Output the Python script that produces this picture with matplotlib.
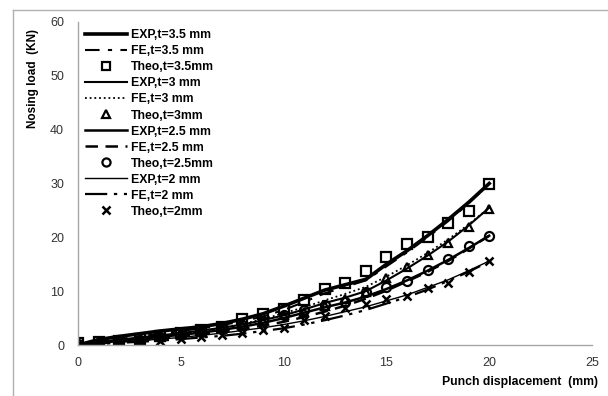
import numpy as np
import matplotlib
matplotlib.use("Agg")
import matplotlib.pyplot as plt
from matplotlib.lines import Line2D

plt.rcParams['font.family'] = ['Liberation Sans', 'DejaVu Sans']

# Punch displacement (mm)
disp = list(range(0, 21))

# Experimental curves
exp_35 = [0, 1.0, 1.6, 2.1, 2.6, 3.0, 3.4, 4.0, 4.8, 5.8, 7.2, 8.7, 10.2, 11.2, 12.2, 15.0, 17.5, 20.3, 23.3, 26.5, 30.0]
exp_3 = [0, 0.6, 1.0, 1.4, 1.8, 2.2, 2.7, 3.2, 3.8, 4.6, 5.5, 6.6, 7.8, 8.8, 10.0, 12.0, 14.2, 16.6, 19.2, 22.2, 25.5]
exp_25 = [0, 0.5, 0.8, 1.1, 1.5, 1.9, 2.3, 2.8, 3.4, 4.1, 5.0, 6.0, 7.0, 7.9, 9.0, 10.4, 12.0, 13.8, 15.8, 18.0, 20.3]
exp_2 = [0, 0.4, 0.6, 0.8, 1.1, 1.4, 1.8, 2.2, 2.7, 3.2, 3.8, 4.5, 5.3, 6.2, 7.1, 8.2, 9.3, 10.7, 12.1, 13.8, 15.6]

# FE curves
fe_35 = [0, 0.6, 1.1, 1.6, 2.1, 2.6, 3.1, 3.7, 4.4, 5.3, 6.5, 8.0, 9.6, 10.8, 12.0, 14.6, 17.2, 20.0, 23.0, 26.3, 30.0]
fe_3 = [0, 0.5, 0.9, 1.3, 1.7, 2.1, 2.6, 3.2, 3.9, 4.8, 5.9, 7.0, 8.3, 9.5, 10.8, 12.7, 14.8, 17.1, 19.6, 22.4, 25.5]
fe_25 = [0, 0.3, 0.6, 0.9, 1.2, 1.6, 2.0, 2.5, 3.0, 3.6, 4.3, 5.2, 6.2, 7.3, 8.6, 10.1, 11.8, 13.6, 15.6, 17.9, 20.3]
fe_2 = [0, 0.2, 0.4, 0.6, 0.8, 1.1, 1.4, 1.7, 2.1, 2.6, 3.1, 3.8, 4.6, 5.5, 6.5, 7.7, 8.9, 10.3, 11.9, 13.6, 15.5]

# Theoretical points
theo_35 = [0.3, 0.5, 0.8, 1.2, 1.6, 2.2, 2.8, 3.3, 4.8, 5.8, 6.7, 8.4, 10.4, 11.5, 13.8, 16.4, 18.8, 20.0, 22.7, 24.9, 30.0]
theo_3 = [0.2, 0.5, 0.8, 1.1, 1.5, 2.0, 2.5, 3.0, 3.8, 4.5, 5.5, 6.2, 7.3, 8.5, 9.9, 12.5, 14.5, 16.7, 19.0, 21.9, 25.3]
theo_25 = [0.2, 0.4, 0.7, 1.0, 1.4, 1.9, 2.4, 3.0, 3.7, 4.5, 5.5, 6.5, 7.4, 8.0, 9.9, 10.8, 11.8, 14.0, 16.0, 18.3, 20.3]
theo_2 = [0.2, 0.3, 0.4, 0.6, 0.8, 1.1, 1.4, 1.8, 2.2, 2.8, 3.2, 4.6, 5.4, 6.8, 7.7, 8.5, 9.1, 10.5, 11.5, 13.6, 15.6]

fig = plt.figure(figsize=(6.08, 3.96), dpi=100)
ax = fig.add_axes([78/608, 1 - 345/396, (592 - 78)/608, (345 - 22)/396])

k = 'black'
ax.plot(disp, exp_35, color=k, lw=2.6, label='EXP,t=3.5 mm')
ax.plot(disp, fe_35, color=k, lw=1.5, dashes=(7, 4, 2, 4), label='FE,t=3.5 mm')
ax.plot(disp, theo_35, ls='none', marker='s', ms=7, mfc='none', mec=k, mew=1.6, label='Theo,t=3.5mm')
ax.plot(disp, exp_3, color=k, lw=1.5, label='EXP,t=3 mm')
ax.plot(disp, fe_3, color=k, lw=1.3, dashes=(1, 1.6), label='FE,t=3 mm')
ax.plot(disp, theo_3, ls='none', marker='^', ms=6, mfc='none', mec=k, mew=1.6, label='Theo,t=3mm')
ax.plot(disp, exp_25, color=k, lw=1.8, label='EXP,t=2.5 mm')
ax.plot(disp, fe_25, color=k, lw=1.8, dashes=(5, 3), label='FE,t=2.5 mm')
ax.plot(disp, theo_25, ls='none', marker='o', ms=6.5, mfc='none', mec=k, mew=1.6, label='Theo,t=2.5mm')
ax.plot(disp, exp_2, color=k, lw=1.0, label='EXP,t=2 mm')
ax.plot(disp, fe_2, color=k, lw=1.6, dashes=(10, 3, 1.5, 3, 1.5, 3), label='FE,t=2 mm')
ax.plot(disp, theo_2, ls='none', marker='x', ms=6, mec=k, mew=1.8, label='Theo,t=2mm')

ax.set_xlim(0, 25)
ax.set_ylim(0, 60)
ax.set_xticks(range(0, 26, 5))
ax.set_yticks(range(0, 61, 10))
ax.tick_params(length=0, labelsize=9, colors='#333333')
ax.tick_params(axis='x', pad=9)
ax.tick_params(axis='y', pad=10)
for s in ['top', 'right']:
    ax.spines[s].set_visible(False)
for s in ['left', 'bottom']:
    ax.spines[s].set_color('#a6a6a6')
    ax.spines[s].set_linewidth(1.0)

leg = ax.legend(loc='upper left', bbox_to_anchor=(0.0, 1.0), frameon=False,
                handlelength=3.4, handletextpad=0.3, labelspacing=0.33,
                borderaxespad=0.2, markerscale=0.9,
                prop={'weight': 'bold', 'size': 8.8})

fig.text(33/608, 1 - 78/396, 'Nosing load  (KN)', rotation=90, ha='center', va='center',
         fontsize=8.5, fontweight='bold')
fig.text(598/608, 1 - 382/396, 'Punch displacement  (mm)', ha='right', va='center',
         fontsize=8.8, fontweight='bold')

# page frame of the original document
fig.add_artist(Line2D([13/608, 1], [1 - 10/396, 1 - 10/396], color='#b0b0b0', lw=1.0))
fig.add_artist(Line2D([13/608, 13/608], [0, 1 - 10/396], color='#b0b0b0', lw=1.0))

fig.savefig('out.png', dpi=100)
